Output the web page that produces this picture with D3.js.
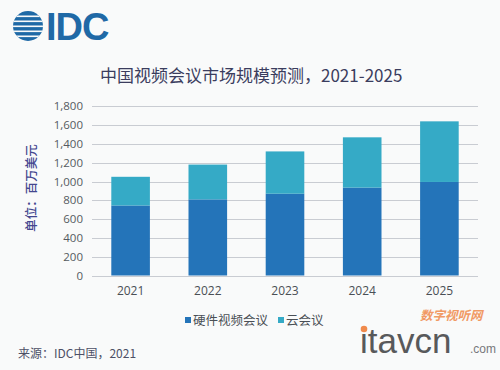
<!DOCTYPE html>
<html>
<head>
<meta charset="utf-8">
<script src="https://cdn.jsdelivr.net/npm/d3@7"></script>
<style>
  body { margin: 0; background: #f9fafa; }
  svg { display: block; font-family: "Noto Sans", "Noto Sans CJK SC", sans-serif; }
</style>
</head>
<body>
<div id="chart"></div>
<script>
// data (million USD)
var years = ["2021", "2022", "2023", "2024", "2025"];
var hardware = [745, 810, 870, 935, 995];
var cloud = [305, 370, 450, 535, 645];
var seriesNames = ["硬件视频会议", "云会议"];
var yTicks = [0, 200, 400, 600, 800, 1000, 1200, 1400, 1600, 1800];

var colors = ["#2474b9", "#35aac6"];

var W = 500, H = 370;

var svg = d3.select("#chart").append("svg")
    .attr("width", W)
    .attr("height", H);

svg.append("rect").attr("width", W).attr("height", H).attr("fill", "#f9fafa");

// IDC logo - striped globe + letters
var logo = svg.append("g");
var clip = svg.append("clipPath").attr("id", "globe");
clip.append("circle").attr("cx", 28).attr("cy", 26).attr("r", 15);
logo.append("circle").attr("cx", 28).attr("cy", 26).attr("r", 15).attr("fill", "#1f69a6");
var stripes = logo.append("g").attr("clip-path", "url(#globe)");
[15.5, 20.5, 25.5, 30.5, 35.5].forEach(function (y) {
    stripes.append("rect")
        .attr("x", 10).attr("y", y).attr("width", 40).attr("height", 1.6)
        .attr("fill", "#f9fafa");
});
logo.append("text")
    .attr("x", 46).attr("y", 40)
    .attr("font-family", "Liberation Sans, Arial, sans-serif")
    .attr("font-weight", "bold")
    .attr("font-size", 38)
    .attr("fill", "#1f69a6")
    .attr("letter-spacing", -1)
    .text("IDC");

// title
svg.append("text")
    .attr("x", 100).attr("y", 82)
    .attr("font-family", "Noto Sans CJK SC, sans-serif")
    .attr("font-size", 17)
    .attr("fill", "#3b3d5e")
    .text("中国视频会议市场规模预测，2021-2025");

var x = d3.scaleBand()
    .domain(years)
    .range([92, 478])
    .paddingInner(0.5)
    .paddingOuter(0.25);

var y = d3.scaleLinear()
    .domain([0, 1800])
    .range([275.5, 106.3]);

// gridlines
svg.append("g")
    .selectAll("line")
    .data(yTicks)
    .enter()
    .append("line")
    .attr("x1", 92).attr("x2", 478)
    .attr("y1", function (d) { return Math.round(y(d)) + 0.5; })
    .attr("y2", function (d) { return Math.round(y(d)) + 0.5; })
    .attr("stroke", "#c9ccd2")
    .attr("stroke-width", 1);

// y axis labels
var yAxis = d3.axisLeft(y)
    .tickValues(yTicks)
    .tickSize(0)
    .tickPadding(0)
    .tickFormat(d3.format(","));

var gy = svg.append("g")
    .attr("transform", "translate(83,0)")
    .call(yAxis);
gy.select(".domain").remove();
gy.selectAll("text")
    .attr("font-family", "Open Sans, Noto Sans, sans-serif")
    .attr("font-size", 11.5)
    .attr("fill", "#555a60");

// y axis title
svg.append("text")
    .attr("transform", "translate(36,188) rotate(-90)")
    .attr("text-anchor", "middle")
    .attr("font-family", "Noto Sans CJK SC, sans-serif")
    .attr("font-size", 12.5)
    .attr("font-weight", 500)
    .attr("fill", "#44478f")
    .text("单位：百万美元");

// stacked bars
var table = years.map(function (yr, i) {
    return { year: yr, hw: hardware[i], cloud: cloud[i] };
});
var stack = d3.stack().keys(["hw", "cloud"]);
var layers = stack(table);

svg.append("g")
    .selectAll("g")
    .data(layers)
    .enter()
    .append("g")
    .attr("fill", function (d, i) { return colors[i]; })
    .selectAll("rect")
    .data(function (d) { return d; })
    .enter()
    .append("rect")
    .attr("x", function (d) { return x(d.data.year); })
    .attr("width", x.bandwidth())
    .attr("y", function (d) { return y(d[1]); })
    .attr("height", function (d) { return y(d[0]) - y(d[1]); });

// x axis labels
var xAxis = d3.axisBottom(x).tickSize(0).tickPadding(0);
var gx = svg.append("g")
    .attr("transform", "translate(0,286)")
    .call(xAxis);
gx.select(".domain").remove();
gx.selectAll("text")
    .attr("font-family", "Open Sans, Noto Sans, sans-serif")
    .attr("font-size", 12)
    .attr("fill", "#4a4f55");

// legend
var legendX = [185, 278];
var legend = svg.append("g")
    .selectAll("g")
    .data(seriesNames)
    .enter()
    .append("g")
    .attr("transform", function (d, i) { return "translate(" + legendX[i] + ",320)"; });
legend.append("rect")
    .attr("x", 0).attr("y", -3)
    .attr("width", 6).attr("height", 6)
    .attr("fill", function (d, i) { return colors[i]; });
legend.append("text")
    .attr("x", 8).attr("y", 4.5)
    .attr("font-family", "Noto Sans CJK SC, sans-serif")
    .attr("font-size", 12.5)
    .attr("fill", "#4a4f55")
    .text(function (d) { return d; });

// source
svg.append("text")
    .attr("x", 18).attr("y", 358)
    .attr("font-family", "Noto Sans CJK SC, sans-serif")
    .attr("font-size", 12)
    .attr("fill", "#4d5066")
    .text("来源：IDC中国，2021");

// watermark
svg.append("text")
    .attr("x", 420).attr("y", 320)
    .attr("font-family", "Noto Sans CJK SC, sans-serif")
    .attr("font-size", 12.5)
    .attr("font-style", "italic")
    .attr("font-weight", "bold")
    .attr("fill", "#f08a4b")
    .attr("opacity", 0.85)
    .text("数字视听网");
svg.append("text")
    .attr("x", 360).attr("y", 353)
    .attr("font-family", "Liberation Sans, Arial, sans-serif")
    .attr("font-size", 35)
    .attr("fill", "#58595b")
    .text("itavcn");
svg.append("text")
    .attr("x", 470).attr("y", 353)
    .attr("font-family", "Liberation Sans, Arial, sans-serif")
    .attr("font-size", 12)
    .attr("fill", "#77787a")
    .text(".com");
svg.append("circle")
    .attr("cx", 364).attr("cy", 329).attr("r", 3.3)
    .attr("fill", "#f08a4b");
</script>
</body>
</html>
